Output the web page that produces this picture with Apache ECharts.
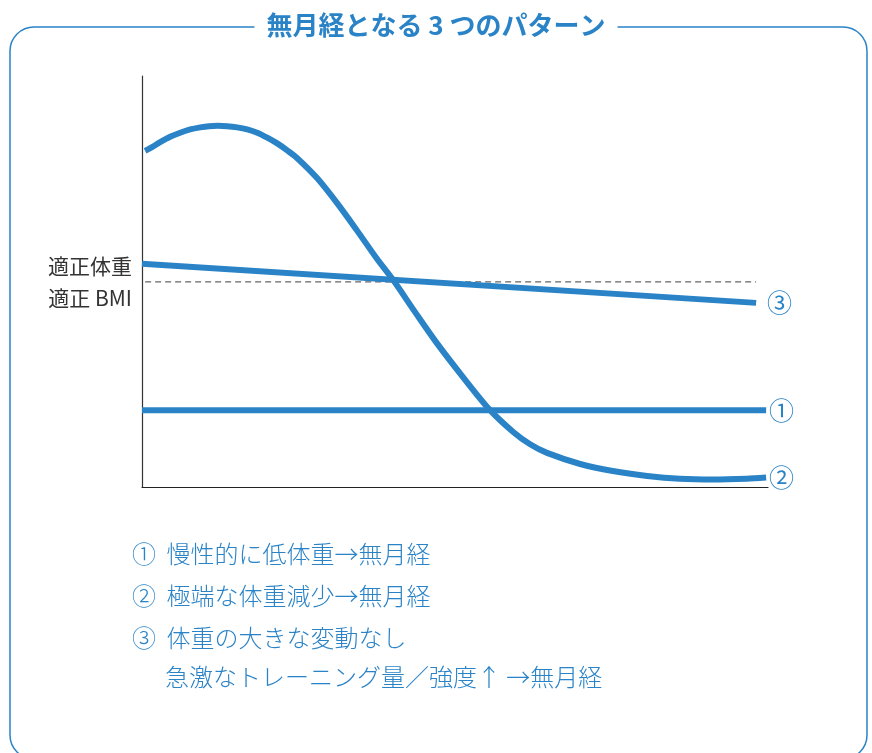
<!DOCTYPE html>
<html>
<head>
<meta charset="utf-8">
<script src="https://cdn.jsdelivr.net/npm/echarts@6/dist/echarts.min.js"></script>
<style>
html,body{margin:0;padding:0;background:#fff;}
#c{width:872px;height:753px;}
</style>
</head>
<body>
<div id="c"></div>
<script>
// --- data ---
const titleText = '無月経となる 3 つのパターン';
const yLabelTop = '適正体重';
const yLabelBottom = '適正 BMI';
// pattern ① : chronic low weight (flat)
const pattern1 = [[0, 18.7], [99.7, 18.7]];
// pattern ② : sharp weight loss
const pattern2 = [
  [0.5, 81.8], [1.6, 82.7], [2.9, 83.9], [4.5, 85.2], [6.1, 86.2],
  [7.7, 87.0], [9.3, 87.5], [10.7, 87.8], [12.1, 87.9], [13.6, 87.8],
  [15.2, 87.5], [16.8, 87.0], [18.4, 86.2], [20.0, 85.0], [21.6, 83.6],
  [23.2, 81.9], [24.8, 80.0], [28.0, 75.1], [31.2, 69.0], [34.3, 62.5],
  [37.5, 55.6], [40.1, 50.4], [43.6, 42.6], [47.1, 35.0], [51.4, 26.5],
  [55.6, 18.7], [59.3, 13.4], [62.0, 10.4], [64.7, 8.3], [70.0, 5.6],
  [75.2, 3.9], [80.7, 2.7], [85.9, 2.0], [91.2, 1.8], [96.6, 2.0],
  [99.7, 2.3]
];
// pattern ③ : no big weight change
const pattern3 = [[0, 54.3], [98.1, 44.8]];
// reference: proper weight / BMI
const reference = [[0.5, 49.9], [98.1, 49.9]];
const seriesMarks = ['①', '②', '③'];
const notes = [
  '①  慢性的に低体重→無月経',
  '②  極端な体重減少→無月経',
  '③  体重の大きな変動なし',
  '急激なトレーニング量／強度↑ →無月経'
];

const BLUE = '#2a83c6';
const FONT = '"Noto Sans CJK JP", "Noto Sans", sans-serif';

const chart = echarts.init(document.getElementById('c'));

function endLabel(text, dist) {
  return {
    show: true,
    formatter: text,
    color: BLUE,
    fontSize: 25,
    fontFamily: FONT,
    distance: dist
  };
}

const option = {
  animation: false,
  grid: { left: 142, top: 76, right: 104, bottom: 266 },
  xAxis: {
    type: 'value', min: 0, max: 100,
    axisLine: { show: true, onZero: false, lineStyle: { color: '#222', width: 1.2 } },
    axisTick: { show: false }, axisLabel: { show: false }, splitLine: { show: false }
  },
  yAxis: {
    type: 'value', min: 0, max: 100,
    axisLine: { show: true, lineStyle: { color: '#333', width: 1.2 } },
    axisTick: { show: false }, axisLabel: { show: false }, splitLine: { show: false }
  },
  series: [
    {
      type: 'line', data: reference, symbol: 'none', z: 1,
      lineStyle: { color: '#666', width: 1.3, type: [6, 4] }
    },
    {
      type: 'line', data: pattern3, symbol: 'none', z: 3,
      lineStyle: { color: BLUE, width: 6 },
      endLabel: endLabel(seriesMarks[2], 11)
    },
    {
      type: 'line', data: pattern1, symbol: 'none', z: 3,
      lineStyle: { color: BLUE, width: 6 },
      endLabel: endLabel(seriesMarks[0], 3)
    },
    {
      type: 'line', data: pattern2, symbol: 'none', smooth: 0.3, z: 3,
      lineStyle: { color: BLUE, width: 6, join: 'round' },
      endLabel: endLabel(seriesMarks[1], 3)
    }
  ],
  graphic: [
    {
      type: 'rect', z: 0,
      shape: { x: 10, y: 27, width: 857, height: 732, r: 24 },
      style: { fill: 'none', stroke: BLUE, lineWidth: 1.5 }
    },
    {
      type: 'text', z: 10, left: 'center', top: 12,
      style: {
        text: titleText, fill: BLUE, font: 'bold 26px ' + FONT,
        backgroundColor: '#fff', padding: [0, 12]
      }
    },
    {
      type: 'text', z: 10, right: 872 - 132, top: 256,
      style: { text: yLabelTop, fill: '#333', font: '21px ' + FONT }
    },
    {
      type: 'text', z: 10, right: 872 - 132, top: 288,
      style: { text: yLabelBottom, fill: '#333', font: '21px ' + FONT }
    },
    {
      type: 'text', z: 10, left: 132, top: 542,
      style: { text: notes[0], fill: BLUE, font: '300 24px ' + FONT }
    },
    {
      type: 'text', z: 10, left: 132, top: 584,
      style: { text: notes[1], fill: BLUE, font: '300 24px ' + FONT }
    },
    {
      type: 'text', z: 10, left: 132, top: 626,
      style: { text: notes[2], fill: BLUE, font: '300 24px ' + FONT }
    },
    {
      type: 'text', z: 10, left: 165, top: 665,
      style: { text: notes[3], fill: BLUE, font: '300 24px ' + FONT }
    }
  ]
};
chart.setOption(option);
</script>
</body>
</html>
